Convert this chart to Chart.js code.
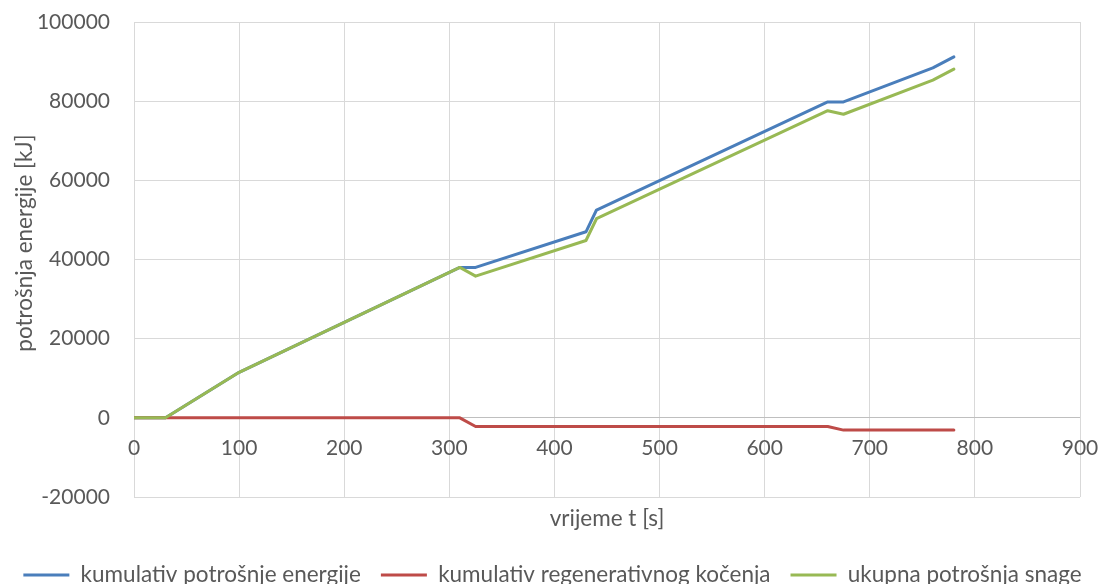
<!DOCTYPE html>
<html>
<head>
<meta charset="utf-8">
<script src="https://cdn.jsdelivr.net/npm/chart.js@4.4.1/dist/chart.umd.min.js"></script>
<style>
  html, body { margin: 0; padding: 0; background: #ffffff; }
  #wrap { width: 1105px; height: 584px; position: relative; }
</style>
</head>
<body>
<div id="wrap"><canvas id="chart"></canvas></div>
<script>
// time stamps [s] for the consumption curves
const timeMain = [0, 30, 100, 310, 325, 430, 440, 660, 675, 760, 780];
// cumulative energy consumption [kJ]
const cumulConsumption = [0, 0, 11500, 38000, 38000, 47000, 52500, 79800, 79800, 88400, 91200];
// total power consumption (consumption + regeneration) [kJ]
const totalConsumption = [0, 0, 11500, 38000, 35800, 44800, 50300, 77600, 76700, 85300, 88100];
// time stamps [s] for regenerative braking
const timeRegen = [0, 310, 325, 660, 675, 780];
// cumulative regenerative braking [kJ]
const cumulRegen = [0, 0, -2200, -2200, -3100, -3100];

const seriesNames = ['kumulativ potrošnje energije', 'kumulativ regenerativnog kočenja', 'ukupna potrošnja snage'];
const xTitle = 'vrijeme t [s]';
const yTitle = 'potrošnja energije [kJ]';
const xRange = [0, 900];
const xStep = 100;
const yRange = [-20000, 100000];
const yStep = 20000;

const textColor = '#595959';
const fontFamily = 'Lato, "Liberation Sans", sans-serif';
const tickSize = 21;
const labelSize = 22.5;

function points(xs, ys) {
  return xs.map((x, i) => ({ x: x, y: ys[i] }));
}

function lineDataset(label, data, color, order) {
  return {
    label: label,
    data: data,
    showLine: true,
    borderColor: color,
    backgroundColor: color,
    borderWidth: 3,
    pointRadius: 0,
    pointHoverRadius: 0,
    borderJoinStyle: 'round',
    borderCapStyle: 'round',
    tension: 0,
    order: order
  };
}

// rotated value-axis title
const yTitlePlugin = {
  id: 'yTitle',
  afterDraw(chart) {
    const ctx = chart.ctx;
    ctx.save();
    ctx.translate(25, 243);
    ctx.rotate(-Math.PI / 2);
    ctx.textAlign = 'center';
    ctx.textBaseline = 'middle';
    ctx.fillStyle = textColor;
    ctx.font = labelSize + 'px ' + fontFamily;
    ctx.fillText(yTitle, 0, 0);
    ctx.restore();
  }
};

new Chart(document.getElementById('chart'), {
  type: 'scatter',
  data: {
    datasets: [
      lineDataset(seriesNames[0], points(timeMain, cumulConsumption), '#4a7ebb', 3),
      lineDataset(seriesNames[1], points(timeRegen, cumulRegen), '#be4b48', 2),
      lineDataset(seriesNames[2], points(timeMain, totalConsumption), '#98b954', 1)
    ]
  },
  plugins: [yTitlePlugin],
  options: {
    responsive: true,
    maintainAspectRatio: false,
    animation: false,
    events: [],
    layout: { padding: { left: 0, right: 0, top: 22, bottom: -12.25 } },
    plugins: {
      tooltip: { enabled: false },
      legend: {
        position: 'bottom',
        labels: {
          boxWidth: 46,
          boxHeight: 3,
          padding: 20,
          color: textColor,
          font: { family: fontFamily, size: labelSize },
          generateLabels(chart) {
            const items = Chart.defaults.plugins.legend.labels.generateLabels(chart);
            items.forEach(it => { it.fillStyle = it.strokeStyle; it.lineWidth = 0; });
            return items.sort((a, b) => a.datasetIndex - b.datasetIndex);
          }
        }
      }
    },
    scales: {
      x: {
        type: 'linear',
        position: 'bottom',
        min: xRange[0],
        max: xRange[1],
        ticks: { display: false, stepSize: xStep },
        grid: { color: '#d9d9d9', lineWidth: 1, drawTicks: false },
        border: { display: false },
        title: {
          display: true,
          text: xTitle,
          color: textColor,
          font: { family: fontFamily, size: labelSize },
          padding: { top: 0, bottom: 11.25 }
        },
        afterFit(scale) {
          scale.height = 46.75;
          scale.paddingLeft = 0;
          scale.paddingRight = 25;
        }
      },
      xZero: {
        type: 'linear',
        position: { y: 0 },
        min: xRange[0],
        max: xRange[1],
        ticks: {
          stepSize: xStep,
          padding: 18,
          color: textColor,
          font: { family: fontFamily, size: tickSize },
          callback: v => String(v)
        },
        grid: { display: false, drawTicks: false },
        border: { display: false },
        afterFit(scale) {
          scale.paddingLeft = 0;
          scale.paddingRight = 25;
        }
      },
      y: {
        type: 'linear',
        min: yRange[0],
        max: yRange[1],
        ticks: {
          stepSize: yStep,
          padding: 24,
          color: textColor,
          font: { family: fontFamily, size: tickSize },
          callback: v => String(v)
        },
        grid: {
          color: c => (c.tick && c.tick.value === 0 ? '#bfbfbf' : '#d9d9d9'),
          lineWidth: 1,
          drawTicks: false
        },
        border: { display: false },
        afterFit(scale) {
          scale.width = 134;
          scale.paddingTop = 0;
          scale.paddingBottom = 0;
        }
      }
    }
  }
});
</script>
</body>
</html>
